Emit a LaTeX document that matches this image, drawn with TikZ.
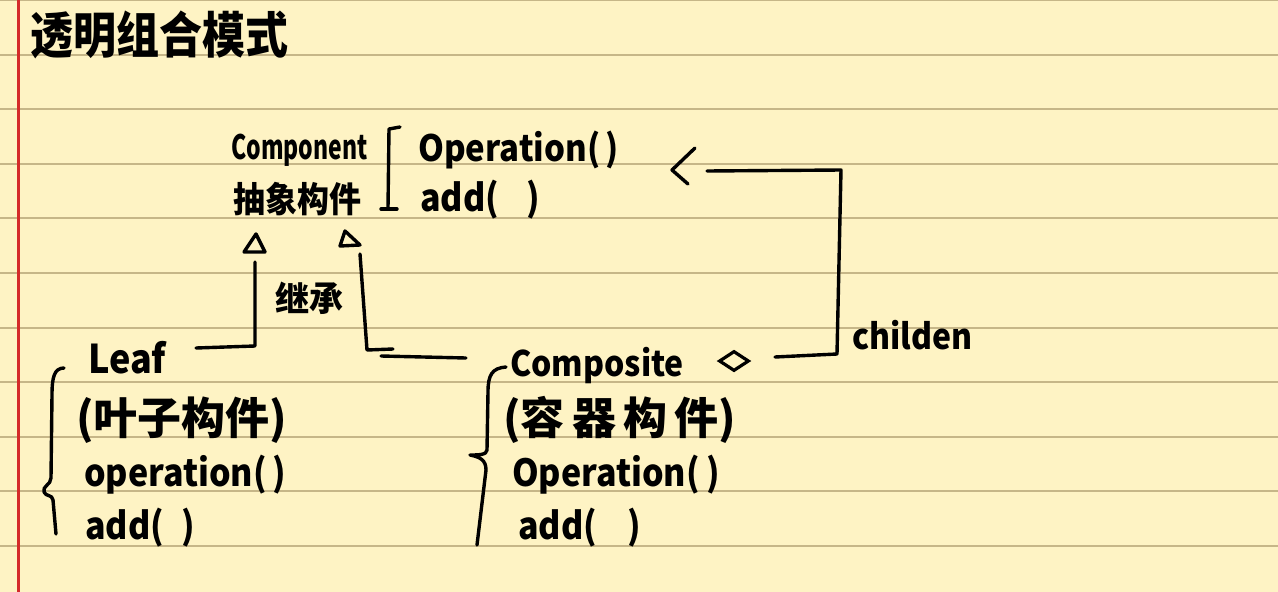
\documentclass[tikz,border=0pt]{standalone}
\usepackage{fontspec}
\setmainfont{Noto Sans CJK SC}
\usetikzlibrary{shapes.geometric}
\definecolor{paper}{HTML}{FEF3C4}
\definecolor{ruleline}{HTML}{C6B688}
\definecolor{marginred}{HTML}{D42A2A}
\begin{document}
\begin{tikzpicture}[x=1pt,y=-1pt,
  hw/.style={font=\fontsize{#1}{#1}\selectfont\bfseries, inner sep=0pt, anchor=west, text=black},
  pen/.style={line width=3.4pt, line cap=round, line join=round, draw=black},
]
% paper
\fill[paper] (0,0) rectangle (1278,592);
\useasboundingbox (0,0) rectangle (1278,592);
\foreach \k in {0,...,10} {
  \draw[ruleline, line width=2pt] (0,{54.6*\k}) -- (1278,{54.6*\k});
}
\draw[marginred, line width=3pt] (18,0) -- (18,592);

% title
\node[hw=43] (title) at (30,35) {\scalebox{1}[1.15]{透明组合模式}};

% Component
\node[hw=28] (comp) at (231,150) {\scalebox{0.82}[1.2]{Component}};
\node[hw=32] (compcn) at (233,199) {\scalebox{1}[1.1]{抽象构件}};
\node[hw=33] (op1) at (418,150) {\scalebox{1}[1.1]{Operation(\,)}};
\node[hw=34] (add1) at (420,200) {\scalebox{1}[1.1]{add(\hspace{0.8em})}};
\draw[pen] (400,127) -- (389,129) -- (388,208);
\draw[pen] (381,209) -- (397,209);

% inheritance arrow heads
\coordinate (t1a) at (256,234);
\coordinate (t1b) at (244,252);
\coordinate (t1c) at (265,252);
\draw[pen] (t1a) -- (t1b) -- (t1c) -- cycle;
\coordinate (t2a) at (345,231);
\coordinate (t2b) at (340,246);
\coordinate (t2c) at (360,245);
\draw[pen] (t2a) -- (t2b) -- (t2c) -- cycle;
\node[hw=34] (inh) at (275,298) {继承};

% Leaf
\node[hw=36] (leaf) at (88,358) {\scalebox{1}[1.1]{Leaf}};
\node[hw=44] (leafcn) at (76,420) {(叶子构件)};
\node[hw=34] (leafop) at (84,475) {\scalebox{1}[1.1]{operation(\,)}};
\node[hw=34] (leafadd) at (85,528) {\scalebox{1}[1.1]{add(\hspace{0.5em})}};
\draw[pen] (64,368) .. controls (54,368) and (52,378) .. (52,395) -- (51,478)
  .. controls (51,485) and (42,486) .. (44,492) .. controls (46,497) and (52,494) .. (53,500)
  -- (56,534);

% Composite
\node[hw=32] (compo) at (510,366) {\scalebox{1}[1.1]{Composite}};
\node[hw=44] (compocn) at (503,420) {(容\,器\,构\,件)};
\node[hw=34] (compoop) at (512,475) {\scalebox{1}[1.1]{Operation(\hspace{0.2em})}};
\node[hw=34] (compoadd) at (518,528) {\scalebox{1}[1.1]{add(\hspace{0.9em})}};
\draw[pen] (506,367) .. controls (492,368) and (488,375) .. (488,392) -- (487,450)
  .. controls (487,455) and (478,455) .. (470,455) .. controls (480,457) and (486,460) .. (486,470)
  -- (477,545);

% inheritance connectors
\coordinate (l1) at (196,348);
\coordinate (l2) at (255,346);
\coordinate (l3) at (255,262);
\draw[pen] (l1) -- (l2) -- (l3);
\coordinate (c1) at (360,254);
\coordinate (c2) at (367,350);
\coordinate (c3) at (393,349);
\draw[pen] (c1) -- (c2) -- (c3);
\coordinate (c4) at (381,356);
\coordinate (c5) at (466,358);
\draw[pen] (c4) -- (c5);

% aggregation
\node[draw=black, line width=3.2pt, shape=diamond, minimum width=30pt, minimum height=20pt, inner sep=0pt] (dia) at (734,361) {};
\coordinate (a1) at (775,357);
\coordinate (a2) at (837,354);
\coordinate (a3) at (841,170);
\coordinate (a4) at (707,171);
\draw[pen] (a1) -- (a2) -- (a3) -- (a4);
\coordinate (h1) at (695,148);
\coordinate (h2) at (672,170);
\coordinate (h3) at (688,184);
\draw[pen] (h1) -- (h2) -- (h3);
\node[hw=32] (child) at (852,335) {\scalebox{1}[1.1]{childen}};
\end{tikzpicture}
\end{document}
